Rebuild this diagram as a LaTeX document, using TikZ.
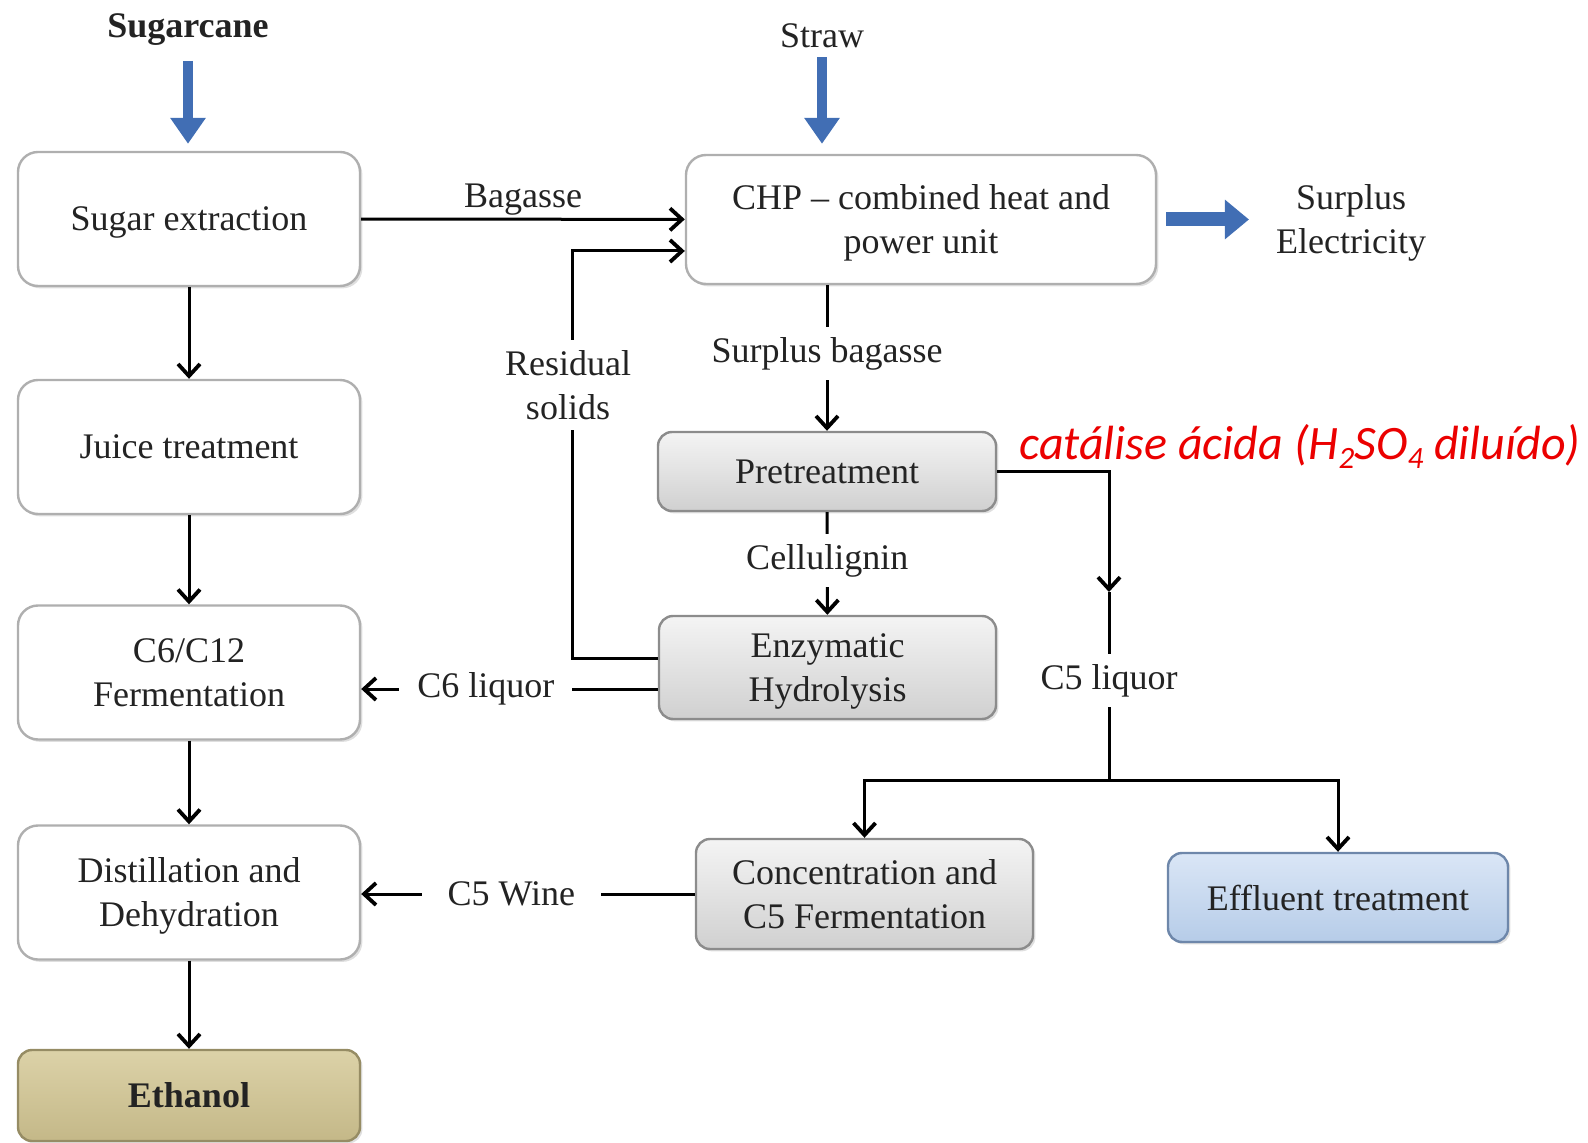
\documentclass[tikz,border=0pt]{standalone}
\usepackage{fontspec}
\setmainfont{Liberation Serif}
\newfontfamily\redfont{Carlito}
\usepackage{tikz}
\usetikzlibrary{arrows,arrows.meta,shadows}

\definecolor{txt}{RGB}{35,35,35}
\definecolor{boxedge}{RGB}{175,175,175}
\definecolor{greyedge}{RGB}{140,140,140}
\definecolor{greytop}{RGB}{244,244,244}
\definecolor{greybot}{RGB}{208,208,208}
\definecolor{ethedge}{RGB}{150,140,100}
\definecolor{ethtop}{RGB}{220,210,168}
\definecolor{ethbot}{RGB}{196,184,136}
\definecolor{effedge}{RGB}{110,135,170}
\definecolor{efftop}{RGB}{218,230,246}
\definecolor{effbot}{RGB}{182,204,232}
\definecolor{arrblue}{RGB}{65,110,180}
\definecolor{acidred}{RGB}{235,0,0}
\newcommand{\lowidx}[1]{\raisebox{-0.35ex}{\fontsize{15.5}{15.5}\selectfont #1}}

\begin{document}
\begin{tikzpicture}[x=0.5pt,y=-0.5pt,
font=\fontsize{18}{22}\selectfont, text=txt,
box/.style={draw=boxedge,line width=1.2pt,rounded corners=10pt,fill=white,
  align=center,inner sep=0pt,minimum width=171pt,minimum height=67pt,text depth=0pt,
  drop shadow={shadow xshift=1.2pt,shadow yshift=-1.2pt,opacity=0.25}},
greybox/.style={box,draw=greyedge,top color=greytop,bottom color=greybot,rounded corners=7pt},
description/.style={fill=white,inner sep=5pt},
flow/.style={-{Straight Barb[length=6pt,width=11pt,line width=1.9pt]},line width=1.5pt},
bluearr/.style={draw=arrblue,line width=5pt,-{Triangle[width=17pt,length=13pt]}}]
\useasboundingbox (0,0) rectangle (1588,1143);

% left column
\node[box] (sugar) at (189,219) {Sugar extraction};
\node[box] (juice) at (189,447) {Juice treatment};
\node[box] (ferm) at (189,672.5) {C6/C12\\Fermentation};
\node[box] (dist) at (189,892.5) {Distillation and\\Dehydration};
\node[box,draw=ethedge,top color=ethtop,bottom color=ethbot,rounded corners=7pt,
  minimum height=45.5pt,font=\fontsize{18}{22}\selectfont\bfseries] (eth) at (189,1095.5) {Ethanol};

% right part
\node[box,minimum width=235pt,minimum height=64.5pt] (chp) at (921,219.5) {CHP – combined heat and\\power unit};
\node[greybox,minimum width=169pt,minimum height=39.5pt] (pre) at (827,471.5) {Pretreatment};
\node[greybox,minimum width=168.5pt,minimum height=51.5pt] (enz) at (827.5,667.5) {Enzymatic\\Hydrolysis};
\node[greybox,minimum width=168.5pt,minimum height=55pt] (conc) at (864.5,894) {Concentration and\\C5 Fermentation};
\node[greybox,draw=effedge,top color=efftop,bottom color=effbot,
  minimum width=170pt,minimum height=44.5pt] (eff) at (1338,897.5) {Effluent treatment};

% inputs and outputs
\node[font=\fontsize{18}{22}\selectfont\bfseries] (cane) at (188,30) {Sugarcane};
\node (straw) at (822,36) {Straw};
\node[align=center] (elec) at (1351,223) {Surplus\\Electricity};
\node[text=acidred,font=\redfont\itshape\fontsize{24}{28}\selectfont,anchor=base west,inner sep=0pt]
  (acid) at (1019,460) {catálise ácida (H\lowidx{2}SO\lowidx{4} diluído)};

\draw[bluearr,shorten <=4pt,shorten >=3.5pt] (cane.south) -- (cane.south |- sugar.north);
\draw[bluearr,shorten <=1pt,shorten >=5pt] (straw.south) -- (straw.south |- chp.north);
\draw[bluearr,line width=7pt,-{Triangle[width=19pt,length=12pt]},shorten <=4.5pt,shorten >=10pt]
  (chp.east) -- (chp.east -| elec.west);

\path[flow]
(sugar) edge (juice)
(juice) edge (ferm)
(ferm) edge (dist)
(dist) edge (eth)
(sugar) edge node[above=-2pt] (bagl) {Bagasse} (chp)
(pre.north |- chp.south) edge node[description,pos=0.47] (sbl) {Surplus bagasse} (pre.north)
(pre) edge node[description,pos=0.47] (cll) {Cellulignin} (enz);

% residual solids back to the CHP
\coordinate (rsbend) at (572,251);
\draw[flow] ([yshift=4.75pt]enz.west) -| (rsbend) -- (rsbend -| chp.west);
\node[description,align=center] (rsl) at (568,385) {Residual\\solids};

\coordinate (c6s) at ([yshift=-10.75pt]enz.west);
\path[flow] (c6s) edge node[description,pos=0.58,inner xsep=9pt] (c6l) {C6 liquor} (c6s -| ferm.east);
\path[flow] (conc.west) edge node[description,pos=0.55,inner xsep=13pt] (c5w) {C5 Wine} (conc.west -| dist.east);

% C5 liquor branch
\coordinate (c5mid) at (1109,592);
\coordinate (split) at (1109,780);
\draw[flow] (pre.east) -| (c5mid);
\draw[line width=1.5pt] (c5mid) -- (split) node[description,pos=0.47] (c5l) {C5 liquor};
\draw[flow] (split) -| (conc.north);
\draw[flow] (split) -| (eff.north);
\end{tikzpicture}
\end{document}
